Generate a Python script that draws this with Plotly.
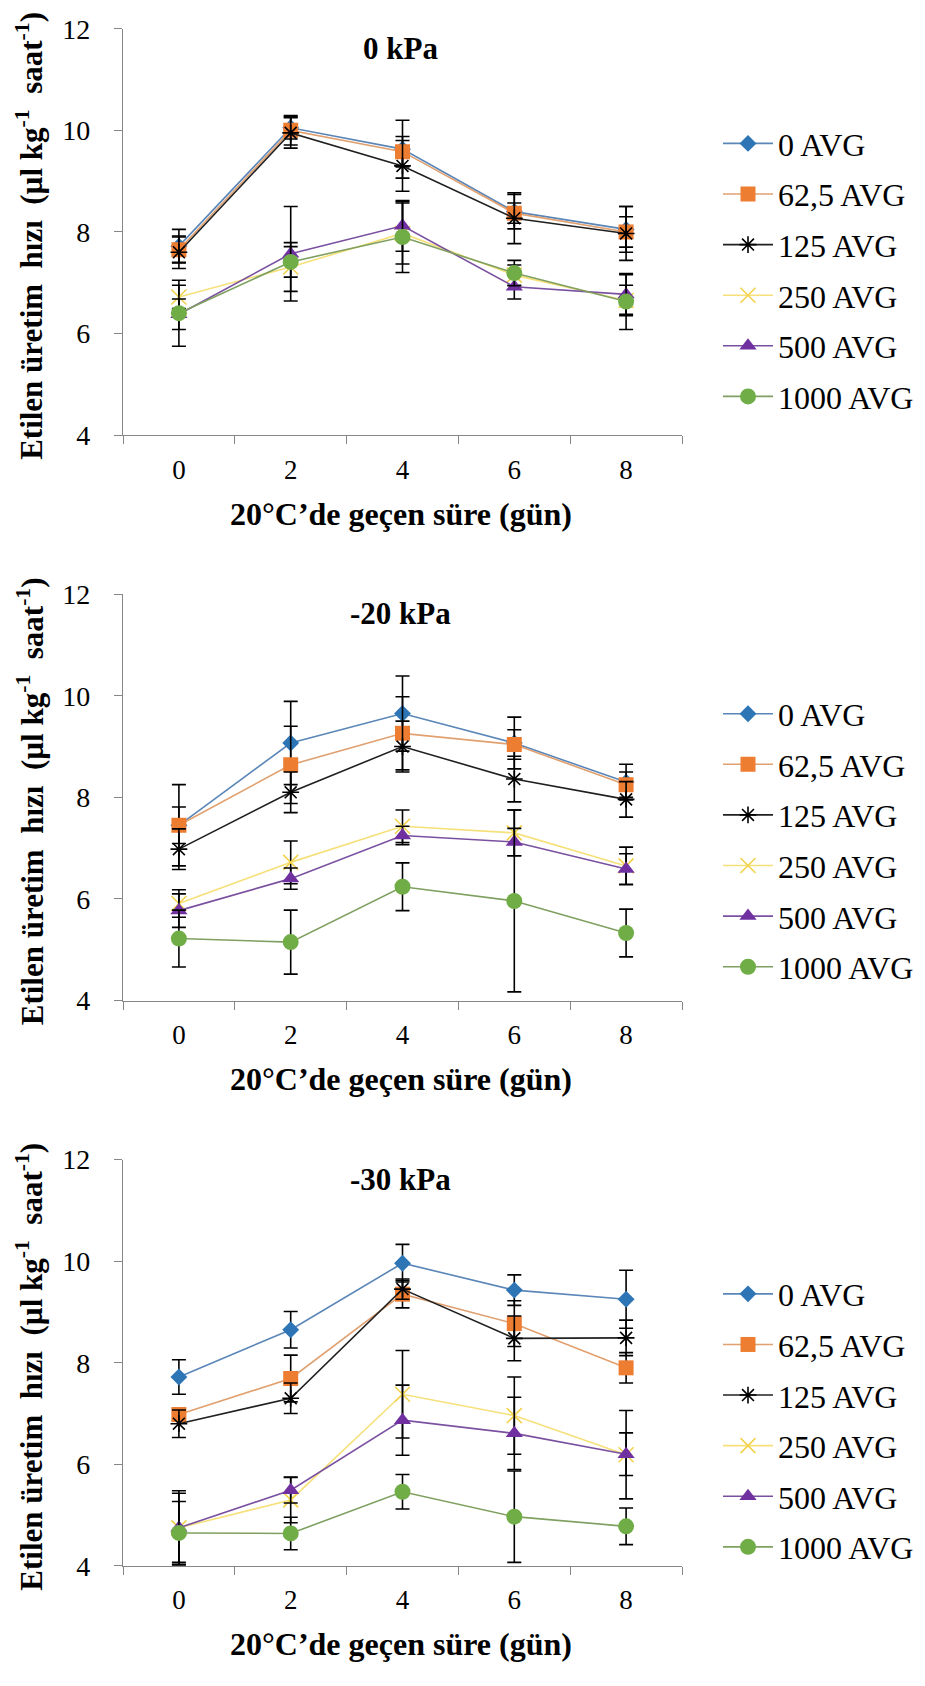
import plotly.graph_objects as go

# ---------------- data ----------------
days = [0, 2, 4, 6, 8]
tick_labels = ["0", "2", "4", "6", "8"]
series_names = ["0 AVG", "62,5 AVG", "125 AVG", "250 AVG", "500 AVG", "1000 AVG"]
panel_titles = ["0 kPa", "-20 kPa", "-30 kPa"]

# 0 kPa
p1_avg0 = [7.72, 10.05, 9.63, 8.40, 8.05]
p1_avg62 = [7.65, 10.00, 9.58, 8.37, 8.00]
p1_avg125 = [7.60, 9.95, 9.30, 8.27, 7.97]
p1_avg250 = [6.72, 7.31, 7.97, 7.15, 6.65]
p1_avg500 = [6.38, 7.57, 8.12, 6.92, 6.77]
p1_avg1000 = [6.40, 7.41, 7.90, 7.19, 6.63]
p1_err0 = [0.33, 0.22, 0.57, 0.34, 0.45]
p1_err62 = [0.25, 0.29, 0.30, 0.20, 0.30]
p1_err125 = [0.32, 0.30, 0.50, 0.50, 0.53]
p1_err250 = [0.23, 0.48, 0.60, 0.20, 0.30]
p1_err500 = [0.30, 0.93, 0.50, 0.24, 0.39]
p1_err1000 = [0.65, 0.30, 0.70, 0.25, 0.55]

# -20 kPa
p2_avg0 = [7.45, 9.07, 9.65, 9.07, 8.30]
p2_avg62 = [7.45, 8.64, 9.26, 9.04, 8.25]
p2_avg125 = [6.98, 8.10, 9.00, 8.36, 7.96]
p2_avg250 = [5.91, 6.72, 7.43, 7.30, 6.65]
p2_avg500 = [5.77, 6.40, 7.25, 7.12, 6.59]
p2_avg1000 = [5.22, 5.15, 6.24, 5.96, 5.33]
p2_err0 = [0.80, 0.82, 0.74, 0.51, 0.35]
p2_err62 = [0.36, 0.76, 0.72, 0.29, 0.25]
p2_err125 = [0.40, 0.40, 0.50, 0.45, 0.35]
p2_err250 = [0.27, 0.42, 0.32, 0.45, 0.37]
p2_err500 = [0.33, 0.21, 0.18, 0.27, 0.30]
p2_err1000 = [0.56, 0.63, 0.47, 1.79, 0.47]

# -30 kPa
p3_avg0 = [7.72, 8.65, 9.96, 9.43, 9.25]
p3_avg62 = [6.98, 7.69, 9.35, 8.77, 7.90]
p3_avg125 = [6.80, 7.30, 9.45, 8.48, 8.49]
p3_avg250 = [4.75, 5.30, 7.38, 6.96, 6.19]
p3_avg500 = [4.75, 5.49, 6.87, 6.61, 6.20]
p3_avg1000 = [4.65, 4.64, 5.46, 4.97, 4.78]
p3_err0 = [0.34, 0.36, 0.37, 0.30, 0.57]
p3_err62 = [0.12, 0.46, 0.27, 0.45, 0.30]
p3_err125 = [0.27, 0.30, 0.20, 0.44, 0.35]
p3_err250 = [0.68, 0.45, 0.86, 0.76, 0.87]
p3_err500 = [0.73, 0.25, 0.69, 0.71, 0.42]
p3_err1000 = [0.62, 0.32, 0.34, 0.90, 0.36]

panels = [
    ([p1_avg0, p1_avg62, p1_avg125, p1_avg250, p1_avg500, p1_avg1000],
     [p1_err0, p1_err62, p1_err125, p1_err250, p1_err500, p1_err1000]),
    ([p2_avg0, p2_avg62, p2_avg125, p2_avg250, p2_avg500, p2_avg1000],
     [p2_err0, p2_err62, p2_err125, p2_err250, p2_err500, p2_err1000]),
    ([p3_avg0, p3_avg62, p3_avg125, p3_avg250, p3_avg500, p3_avg1000],
     [p3_err0, p3_err62, p3_err125, p3_err250, p3_err500, p3_err1000]),
]

# ---------------- styles ----------------
W, H = 925, 1686
FONT = "Liberation Serif, Times New Roman, Times, serif"
marker_syms = ["diamond", "square", "asterisk-open", "x-thin-open", "triangle-up", "circle"]
marker_cols = ["#2E75B6", "#ED7D31", "#000000", "#F2D24B", "#7030A0", "#70AD47"]
line_cols = ["#5A86B8", "#E0A070", "#202020", "#F6E07A", "#7A50A0", "#7FA060"]
marker_sizes = [13, 15, 14, 15, 15, 16]

plot_left, plot_right = 123, 682
panel_tops = [14, 590, 1166]
panel_h = 414
legend_tops = [103, 684, 1275]


def px_x(p):
    return p / W


def px_y(p):
    return 1 - p / H


fig = go.Figure()

for k, (vals, errs) in enumerate(panels):
    xa = "x" if k == 0 else f"x{k+1}"
    ya = "y" if k == 0 else f"y{k+1}"
    lg = "legend" if k == 0 else f"legend{k+1}"
    for i, name in enumerate(series_names):
        open_sym = marker_syms[i] in ("asterisk-open", "x-thin-open")
        fig.add_trace(go.Scatter(
            x=days, y=vals[i], name=name, mode="lines+markers",
            xaxis=xa, yaxis=ya, legend=lg, legendgroup=f"g{k}_{i}",
            line=dict(color=line_cols[i], width=1.6),
            marker=dict(symbol=marker_syms[i], size=marker_sizes[i],
                        color=marker_cols[i],
                        line=dict(color=marker_cols[i], width=1.6 if open_sym else 0)),
            error_y=dict(type="data", array=errs[i], visible=True,
                         color="black", thickness=1.6, width=7),
        ))

layout = dict(
    width=W, height=H,
    margin=dict(l=0, r=0, t=0, b=0),
    paper_bgcolor="white", plot_bgcolor="white",
    font=dict(family=FONT, color="black"),
    showlegend=True,
)

annotations = []
for k in range(3):
    sfx = "" if k == 0 else str(k + 1)
    top = panel_tops[k]
    bottom = top + panel_h
    layout[f"xaxis{sfx}"] = dict(
        domain=[px_x(plot_left), px_x(plot_right)],
        anchor=f"y{sfx}", range=[-1, 9],
        tickvals=days, ticktext=tick_labels, ticks="",
        showline=True, linecolor="#868686", linewidth=1.2,
        showgrid=False, zeroline=False,
        tickfont=dict(family=FONT, size=27, color="black"),
        ticklabelstandoff=10,
        minor=dict(tickvals=[-1, 1, 3, 5, 7, 9], ticks="outside", ticklen=8,
                   tickcolor="#868686", tickwidth=1.2, showgrid=False),
        fixedrange=True,
    )
    layout[f"yaxis{sfx}"] = dict(
        domain=[px_y(bottom), px_y(top)],
        anchor=f"x{sfx}", range=[4, 12], dtick=2, tick0=4,
        ticks="outside", ticklen=8, tickcolor="#868686", tickwidth=1.2,
        showline=True, linecolor="#868686", linewidth=1.2,
        showgrid=False, zeroline=False,
        tickfont=dict(family=FONT, size=28, color="black"),
        ticklabelstandoff=18,
        fixedrange=True,
    )
    lgname = "legend" if k == 0 else f"legend{k+1}"
    layout[lgname] = dict(
        x=px_x(718), xanchor="left",
        y=px_y(legend_tops[k]), yanchor="top",
        font=dict(family=FONT, size=32, color="black"),
        bgcolor="rgba(0,0,0,0)", borderwidth=0,
        tracegroupgap=6, traceorder="grouped", itemwidth=50,
    )
    cx = (plot_left + plot_right) / 2
    annotations.append(dict(
        text=f"<b>{panel_titles[k]}</b>", x=px_x(cx - 2), y=px_y(top + 20),
        xref="paper", yref="paper", xanchor="center", yanchor="middle",
        showarrow=False, font=dict(family=FONT, size=31, color="black")))
    annotations.append(dict(
        text="<b>20°C’de geçen süre (gün)</b>", x=px_x(cx - 2), y=px_y(bottom + 80),
        xref="paper", yref="paper", xanchor="center", yanchor="middle",
        showarrow=False, font=dict(family=FONT, size=32, color="black")))
    annotations.append(dict(
        text="<b>Etilen üretim  hızı  (µl kg<sup>-1</sup>  saat<sup>-1</sup>)</b>",
        x=px_x(30), y=px_y(top + panel_h / 2 + 4),
        xref="paper", yref="paper", xanchor="center", yanchor="middle",
        textangle=-90, showarrow=False,
        font=dict(family=FONT, size=31, color="black")))

layout["annotations"] = annotations
fig.update_layout(**layout)
fig.write_html("out.html")
